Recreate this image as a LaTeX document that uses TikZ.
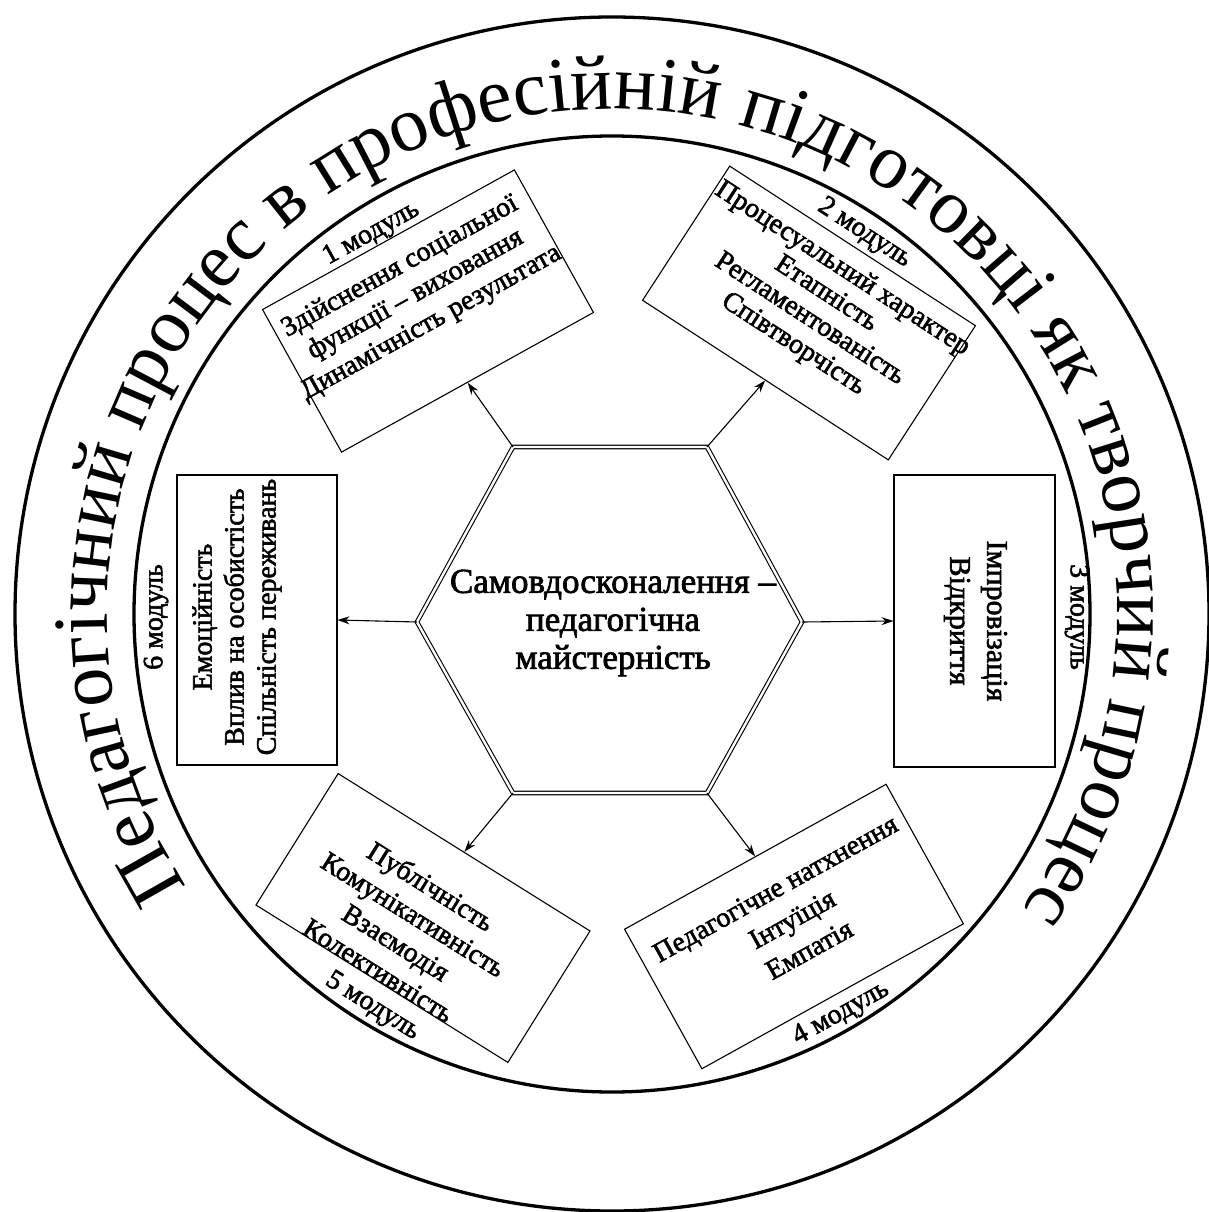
\documentclass[tikz,border=0pt]{standalone}
\usepackage{fontspec}
\setmainfont{Liberation Serif}
\newfontfamily\heavyserif{Liberation Serif}[FakeBold=2]
\newfontfamily\ringserif{Liberation Serif}
\usetikzlibrary{arrows.meta,decorations.text}
\newcommand{\ringsize}{\ringserif\fontsize{78pt}{78pt}\selectfont}
\begin{document}
\begin{tikzpicture}[x=1pt,y=1pt,
  ringline/.style={line width=3.3pt, draw=black},
  modbox/.style={draw, line width=1.1pt, inner sep=0pt},
  boxtext/.style={align=center, inner sep=0pt, font=\heavyserif\fontsize{28pt}{32pt}\selectfont},
  modlabel/.style={inner sep=0pt, font=\heavyserif\fontsize{28pt}{32pt}\selectfont},
  hextext/.style={align=center, inner sep=0pt, font=\heavyserif\fontsize{35pt}{38pt}\selectfont},
  hexline/.style={draw, line width=1.1pt, double distance=2.4pt},
  arrowline/.style={-{Stealth[length=12pt,width=8pt]}, line width=1.1pt}
]
\path[use as bounding box] (0,0) rectangle (1208,-1212);

% rings
\coordinate (C) at (612,-614);
\draw[ringline] (C) circle[radius=597];
\draw[ringline] (C) circle[radius=478];
\path[decorate, decoration={text along path, text align=center,
  text={|\ringsize|Педагогічний процес в професійній підготовці як творчий процес}}]
  (C) ++(215:505) arc[start angle=215, end angle=-38, radius=505];

% hexagon
\coordinate (h1) at (513,-447);
\coordinate (h2) at (707,-447);
\coordinate (h3) at (802,-622);
\coordinate (h4) at (707,-793);
\coordinate (h5) at (513,-793);
\coordinate (h6) at (417,-622);
\draw[hexline] (h1) -- (h2) -- (h3) -- (h4) -- (h5) -- (h6) -- cycle;
\node[hextext] (hex) at (613,-623) {Самовдосконалення –\\педагогічна\\майстерність};

% box 1
\begin{scope}[shift={(428,-311)}, rotate=29, transform shape]
  \node[modbox, minimum width=288pt, minimum height=163pt] (b1) at (0,0) {};
  \node[boxtext] (t1) at (-3,20) {Здійснення соціальної\\функції – виховання\\Динамічність результата};
  \node[modlabel] (l1) at (-12,95) {1 модуль};
\end{scope}

% box 2
\begin{scope}[shift={(809,-313)}, rotate=-33, transform shape]
  \node[modbox, minimum width=293pt, minimum height=160pt] (b2) at (0,0) {};
  \node[boxtext, font=\heavyserif\fontsize{28pt}{30pt}\selectfont] (t2) at (4,10) {Процесуальний характер\\Етапність\\Регламентованість\\Співтворчість};
  \node[modlabel] (l2) at (3,97) {2 модуль};
\end{scope}

% box 3
\begin{scope}[shift={(974.5,-621)}, rotate=-90, transform shape]
  \node[modbox, minimum width=292pt, minimum height=161pt] (b3) at (0,0) {};
  \node[boxtext, font=\heavyserif\fontsize{30pt}{37pt}\selectfont] (t3) at (0,1) {Імпровізація\\Відкриття};
  \node[modlabel] (l3) at (-4,102.5) {3 модуль};
\end{scope}

% box 4
\begin{scope}[shift={(794,-926.5)}, rotate=29, transform shape]
  \node[modbox, minimum width=299pt, minimum height=159.5pt] (b4) at (0,0) {};
  \node[boxtext, font=\heavyserif\fontsize{28pt}{35pt}\selectfont] (t4) at (2,7.5) {Педагогічне натхнення\\Інтуїція\\Емпатія};
  \node[modlabel] (l4) at (-1,-99) {4 модуль};
\end{scope}

% box 5
\begin{scope}[shift={(423,-918)}, rotate=-32, transform shape]
  \node[modbox, minimum width=297pt, minimum height=155pt] (b5) at (0,0) {};
  \node[boxtext, font=\heavyserif\fontsize{28pt}{33pt}\selectfont] (t5) at (-10,-18) {Публічність\\Комунікативність\\Взаємодія\\Колективність};
  \node[modlabel] (l5) at (4,-102) {5 модуль};
\end{scope}

% box 6
\begin{scope}[shift={(257,-620)}, rotate=90, transform shape]
  \node[modbox, minimum width=290pt, minimum height=160pt] (b6) at (0,0) {};
  \node[boxtext] (t6) at (3,20) {Емоційність\\Вплив на особистість\\Спільність переживань};
  \node[modlabel] (l6) at (3,101) {6 модуль};
\end{scope}

% arrows
\draw[arrowline] (h1) -- (b1.south);
\draw[arrowline] (h2) -- (b2.south);
\draw[arrowline] (h3) -- (b3.south);
\draw[arrowline] (h4) -- (b4.north);
\draw[arrowline] (h5) -- (b5.north);
\draw[arrowline] (h6) -- (b6.south);
\end{tikzpicture}
\end{document}
